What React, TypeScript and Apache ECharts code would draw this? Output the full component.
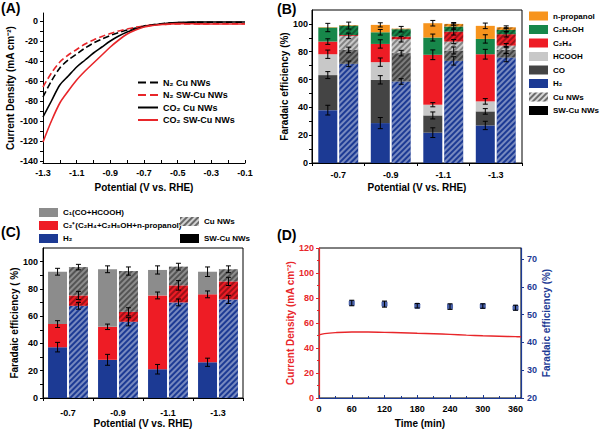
import React, { useEffect, useRef } from 'react';
import * as echarts from 'echarts';

const FONT = '"Liberation Sans", Arial, Helvetica, sans-serif';

// ---------- Panel A: LSV curves ----------
const potentialA = [-1.3, -1.25, -1.2, -1.15, -1.1, -1.05, -1.0, -0.95, -0.9, -0.85, -0.8, -0.75, -0.7, -0.65, -0.6, -0.55, -0.5, -0.45, -0.4, -0.35, -0.3, -0.25, -0.2, -0.15, -0.1];
const n2Cu = [-76, -60, -47, -39, -33, -27, -22, -18, -14.5, -11.5, -9, -7, -5, -3.8, -2.8, -2, -1.6, -1.5, -1.4, -1.4, -1.3, -1.3, -1.2, -1.2, -1.2];
const n2SwCu = [-66, -52, -41, -34, -28.5, -23, -19, -15.5, -12.5, -10, -8, -6.2, -5, -4, -3.5, -3.2, -3, -3, -2.9, -2.9, -2.8, -2.8, -2.8, -2.7, -2.7];
const co2Cu = [-96, -80, -64, -55, -46, -39, -32, -26, -20, -15, -11, -8, -5.5, -4, -3, -2, -1.5, -1.2, -1.1, -1, -1, -1, -1, -1, -1];
const co2SwCu = [-121, -100, -82, -70, -59, -50, -42, -34, -26, -19, -13, -9, -6, -4.5, -3.5, -3, -2.6, -2.7, -2.8, -2.9, -3, -3, -3, -3, -3];
const aXLabels = [-1.3, -1.1, -0.9, -0.7, -0.5, -0.3, -0.1];
const aXTicks = [-1.3, -1.2, -1.1, -1.0, -0.9, -0.8, -0.7, -0.6, -0.5, -0.4, -0.3, -0.2, -0.1];
const aYLabels = [-140, -120, -100, -80, -60, -40, -20, 0];
const aYTicks = [-140, -130, -120, -110, -100, -90, -80, -70, -60, -50, -40, -30, -20, -10, 0];

// ---------- Panel B: product distribution ----------
const potentialCats = ['-0.7', '-0.9', '-1.1', '-1.3'];
const swH2 = [38, 28.7, 21.8, 27];
const swCO = [25.2, 31.1, 12.4, 10.1];
const swHCOOH = [15, 12.7, 7.7, 7.2];
const swC2H4 = [9.1, 13.1, 35.9, 33.9];
const swC2H5OH = [10.1, 8.4, 12.4, 11];
const swNProp = [0.3, 5.3, 10.3, 9.4];
const cuH2 = [71.3, 58.6, 73.4, 75.8];
const cuCO = [10, 20.4, 7.5, 5.5];
const cuHCOOH = [10.1, 10, 6.4, 3.1];
const cuC2H4 = [0.6, 1.9, 7.2, 8.2];
const cuC2H5OH = [6.8, 5.3, 3.6, 3.1];
const cuNProp = [0.4, 0.4, 1.9, 1.9];
const swErrB = [[3.5, 4, 3.5, 3], [2.5, 3, 2.5, 2], [3, 3, 1.5, 2], [2, 3, 3.5, 3.5], [3, 2, 2.5, 3], [0, 1.5, 2, 2]];
const cuErrB = [[2, 2, 3, 3], [2, 2, 2.5, 2.5], [2, 2, 1.5, 1.5], [0, 0, 2.5, 2], [2.5, 2, 2, 1.5], [0, 0, 1, 1]];
const fyLabels = [0, 20, 40, 60, 80, 100];
const fyTicks = [0, 10, 20, 30, 40, 50, 60, 70, 80, 90, 100];

// ---------- Panel C: grouped products ----------
const swH2C = [37.3, 28, 21.1, 26.2];
const swC2C = [16.9, 24.2, 54.1, 49.8];
const swC1C = [38.4, 42.2, 18.7, 16.6];
const cuH2C = [67.6, 55.9, 70.1, 72.3];
const cuC2C = [7.6, 7.3, 12.5, 13.2];
const cuC1C = [20.8, 29.9, 13.7, 8.9];
const swErrC = [[3.5, 4, 3.5, 3], [2.5, 2, 2.5, 2.5], [2.5, 2.5, 3, 3.5]];
const cuErrC = [[2.5, 3, 2.5, 3], [3, 3, 3.5, 3], [2, 3, 2.5, 2.5]];

// ---------- Panel D: stability ----------
const timeD = [0, 10, 30, 60, 90, 120, 150, 180, 210, 240, 270, 300, 330, 360, 370];
const currentD = [50.5, 51.5, 52.3, 52.8, 52.8, 52.5, 52.2, 51.8, 51.4, 50.9, 50.3, 49.8, 49.4, 49.1, 49];
const feTimes = [60, 120, 180, 240, 300, 360];
const feValues = [54.2, 53.8, 53.2, 52.9, 53.1, 52.5];
const feErr = [1, 1.1, 0.8, 1, 0.8, 0.9];
const dRightLabels = [20, 30, 40, 50, 60, 70];

const COL = {
  np: '#F7941D', eth: '#17874A', c2h4: '#EE1C25', hcooh: '#C8C8C8', co: '#444444', h2: '#1C3A94', c1: '#8C8C8C',
  red: '#E8262A', navy: '#1C3A94',
};

const NAMES: Record<string, string> = {
  N2Cu: 'N₂ Cu NWs', N2SW: 'N₂ SW-Cu NWs', CO2Cu: 'CO₂ Cu NWs', CO2SW: 'CO₂ SW-Cu NWs',
  B_np: 'n-propanol', B_eth: 'C₂H₅OH', B_c2h4: 'C₂H₄', B_hcooh: 'HCOOH', B_co: 'CO', B_h2: 'H₂',
  B_cu: 'Cu NWs', B_sw: 'SW-Cu NWs',
  C_c1: 'C₁(CO+HCOOH)', C_c2: 'C₂⁺(C₂H₄+C₂H₅OH+n-propanol)', C_h2: 'H₂', C_cu: 'Cu NWs', C_sw: 'SW-Cu NWs',
};

const BAR_W = 19;
const BAR_OFF = 10.45;

const hatch = (color: string) => ({
  symbol: 'rect', symbolSize: 1, dashArrayX: [1, 0], dashArrayY: [1.2, 1.6], rotation: -Math.PI / 4, color,
});

const labelStyle = { fontFamily: FONT, fontWeight: 'bold', fontSize: 9, color: '#000' };
const nameStyle = { fontFamily: FONT, fontWeight: 'bold', fontSize: 10, color: '#000' };
const blackLine = { show: true, onZero: false, lineStyle: { color: '#000', width: 1 } };

function cumulative(parts: number[][]): number[][] {
  const acc = parts[0].map(() => 0);
  return parts.map((p) => { p.forEach((v, i) => { acc[i] += v; }); return acc.slice(); });
}

function errSeries(xi: number, yi: number, data: number[][], side: number) {
  return {
    type: 'custom', xAxisIndex: xi, yAxisIndex: yi, z: 10, silent: true,
    encode: { x: 0, y: 1 }, data,
    renderItem: (_p: any, api: any) => {
      const x0 = api.value(0), v = api.value(1), e = api.value(2);
      if (!e) return null;
      const lo = api.coord([x0, v - e]);
      const hi = api.coord([x0, v + e]);
      const x = lo[0] + side * BAR_OFF;
      const st = { stroke: '#000', lineWidth: 1 };
      return {
        type: 'group', children: [
          { type: 'line', shape: { x1: x, y1: lo[1], x2: x, y2: hi[1] }, style: st },
          { type: 'line', shape: { x1: x - 2.5, y1: lo[1], x2: x + 2.5, y2: lo[1] }, style: st },
          { type: 'line', shape: { x1: x - 2.5, y1: hi[1], x2: x + 2.5, y2: hi[1] }, style: st },
        ],
      };
    },
  };
}

function barErrData(parts: number[][], errs: number[][]) {
  const tops = cumulative(parts);
  const out: number[][] = [];
  tops.forEach((layer, li) => layer.forEach((t, ci) => { if (errs[li][ci] > 0) out.push([ci, t, errs[li][ci]]); }));
  return out;
}

function buildOption(): any {
  const series: any[] = [];

  // A
  const aLines: [string, number[], string, string][] = [
    ['N2Cu', n2Cu, '#000', 'dashed'], ['N2SW', n2SwCu, COL.red, 'dashed'],
    ['CO2Cu', co2Cu, '#000', 'solid'], ['CO2SW', co2SwCu, COL.red, 'solid'],
  ];
  aLines.forEach(([name, arr, color, type]) => series.push({
    type: 'line', name, xAxisIndex: 0, yAxisIndex: 0, smooth: 0.3,
    symbol: 'circle', showSymbol: false,
    data: potentialA.map((x, i) => [x, arr[i]]),
    itemStyle: { color }, lineStyle: { color, width: 1.6, type },
  }));

  // B
  const bSw: [string, number[], string][] = [
    ['B_h2', swH2, COL.h2], ['B_co', swCO, COL.co], ['B_hcooh', swHCOOH, COL.hcooh],
    ['B_c2h4', swC2H4, COL.c2h4], ['B_eth', swC2H5OH, COL.eth], ['B_np', swNProp, COL.np],
  ];
  const bCu: [string, number[], string, string][] = [
    ['B_h2_cu', cuH2, COL.h2, 'rgba(255,255,255,0.4)'], ['B_co_cu', cuCO, COL.co, 'rgba(255,255,255,0.3)'],
    ['B_hcooh_cu', cuHCOOH, COL.hcooh, 'rgba(0,0,0,0.35)'], ['B_c2h4_cu', cuC2H4, COL.c2h4, 'rgba(0,0,0,0.35)'],
    ['B_eth_cu', cuC2H5OH, COL.eth, 'rgba(0,0,0,0.35)'], ['B_np_cu', cuNProp, COL.np, 'rgba(0,0,0,0.3)'],
  ];
  bSw.forEach(([name, arr, color]) => series.push({
    type: 'bar', name, xAxisIndex: 1, yAxisIndex: 1, stack: 'bsw', data: arr,
    barWidth: BAR_W, barGap: '10%', itemStyle: { color },
  }));
  bCu.forEach(([name, arr, color, hc]) => series.push({
    type: 'bar', name, xAxisIndex: 1, yAxisIndex: 1, stack: 'bcu', data: arr,
    barWidth: BAR_W, barGap: '10%', itemStyle: { color, decal: hatch(hc) },
  }));
  series.push({ type: 'bar', name: 'B_cu', xAxisIndex: 1, yAxisIndex: 1, stack: 'bcu', data: [], barWidth: BAR_W, barGap: '10%', itemStyle: { color: '#d8d8d8', decal: hatch('rgba(0,0,0,0.5)') } });
  series.push({ type: 'bar', name: 'B_sw', xAxisIndex: 1, yAxisIndex: 1, stack: 'bsw', data: [], barWidth: BAR_W, barGap: '10%', itemStyle: { color: '#000' } });
  series.push(errSeries(1, 1, barErrData(bSw.map((s) => s[1]), swErrB), -1));
  series.push(errSeries(1, 1, barErrData(bCu.map((s) => s[1]), cuErrB), 1));

  // C
  const cSw: [string, number[], string][] = [['C_h2', swH2C, COL.h2], ['C_c2', swC2C, COL.c2h4], ['C_c1', swC1C, COL.c1]];
  const cCu: [string, number[], string, string][] = [
    ['C_h2_cu', cuH2C, COL.h2, 'rgba(255,255,255,0.4)'], ['C_c2_cu', cuC2C, COL.c2h4, 'rgba(0,0,0,0.35)'],
    ['C_c1_cu', cuC1C, COL.c1, 'rgba(0,0,0,0.4)'],
  ];
  cSw.forEach(([name, arr, color]) => series.push({
    type: 'bar', name, xAxisIndex: 2, yAxisIndex: 2, stack: 'csw', data: arr,
    barWidth: BAR_W, barGap: '10%', itemStyle: { color },
  }));
  cCu.forEach(([name, arr, color, hc]) => series.push({
    type: 'bar', name, xAxisIndex: 2, yAxisIndex: 2, stack: 'ccu', data: arr,
    barWidth: BAR_W, barGap: '10%', itemStyle: { color, decal: hatch(hc) },
  }));
  series.push({ type: 'bar', name: 'C_cu', xAxisIndex: 2, yAxisIndex: 2, stack: 'ccu', data: [], barWidth: BAR_W, barGap: '10%', itemStyle: { color: '#d0d0d0', decal: hatch('rgba(0,0,0,0.5)') } });
  series.push({ type: 'bar', name: 'C_sw', xAxisIndex: 2, yAxisIndex: 2, stack: 'csw', data: [], barWidth: BAR_W, barGap: '10%', itemStyle: { color: '#000' } });
  series.push(errSeries(2, 2, barErrData(cSw.map((s) => s[1]), swErrC), -1));
  series.push(errSeries(2, 2, barErrData(cCu.map((s) => s[1]), cuErrC), 1));

  // D
  series.push({
    type: 'line', name: 'D_j', xAxisIndex: 3, yAxisIndex: 3, smooth: 0.4, showSymbol: false, symbol: 'none',
    data: timeD.map((t, i) => [t, currentD[i]]), lineStyle: { color: COL.red, width: 1.5 }, itemStyle: { color: COL.red },
  });
  series.push({
    type: 'scatter', name: 'D_fe', xAxisIndex: 3, yAxisIndex: 4, symbol: 'roundRect', symbolSize: 6,
    data: feTimes.map((t, i) => [t, feValues[i]]), itemStyle: { color: COL.navy },
  });
  series.push(errSeries(3, 4, feTimes.map((t, i) => [t, feValues[i], feErr[i]]), 0));

  const legendText = { fontFamily: FONT, fontWeight: 'bold', fontSize: 8, color: '#000' };
  const fmt = (n: string) => NAMES[n] ?? n;

  return {
    animation: false,
    backgroundColor: '#fff',
    textStyle: { fontFamily: FONT },
    grid: [
      { left: 43, top: 13, width: 202, height: 150 },
      { left: 312, top: 10, width: 210, height: 153, show: true, borderColor: '#000', borderWidth: 1, backgroundColor: 'transparent' },
      { left: 43, top: 248, width: 200, height: 150, show: true, borderColor: '#000', borderWidth: 1, backgroundColor: 'transparent' },
      { left: 319, top: 248, width: 202, height: 150, show: true, borderColor: '#000', borderWidth: 1, backgroundColor: 'transparent' },
    ],
    xAxis: [
      {
        type: 'value', gridIndex: 0, min: -1.3, max: -0.1,
        axisLine: blackLine, splitLine: { show: false },
        axisTick: { show: true, inside: true, length: 3, customValues: aXTicks, lineStyle: { color: '#000' } },
        axisLabel: { ...labelStyle, margin: 5, customValues: aXLabels, formatter: (v: number) => v.toFixed(1) },
        name: 'Potential (V vs. RHE)', nameLocation: 'middle', nameGap: 19, nameTextStyle: nameStyle,
      },
      {
        type: 'category', gridIndex: 1, data: potentialCats,
        axisLine: blackLine, axisTick: { show: true, length: 3, lineStyle: { color: '#000' } },
        axisLabel: { ...labelStyle, margin: 7 },
        name: 'Potential (V vs. RHE)', nameLocation: 'middle', nameGap: 19, nameTextStyle: nameStyle,
      },
      {
        type: 'category', gridIndex: 2, data: potentialCats,
        axisLine: blackLine, axisTick: { show: true, length: 3, lineStyle: { color: '#000' } },
        axisLabel: { ...labelStyle, margin: 10 },
        name: 'Potential (V vs. RHE)', nameLocation: 'middle', nameGap: 20, nameTextStyle: nameStyle,
      },
      {
        type: 'value', gridIndex: 3, min: 0, max: 370, interval: 60,
        axisLine: { show: true, onZero: false, lineStyle: { color: COL.navy, width: 1 } }, splitLine: { show: false },
        axisTick: { show: true, inside: true, length: 3, lineStyle: { color: COL.navy } },
        minorTick: { show: true, splitNumber: 2, length: 2, lineStyle: { color: COL.navy } },
        axisLabel: { ...labelStyle, margin: 6, showMaxLabel: false },
        name: 'Time (min)', nameLocation: 'middle', nameGap: 20, nameTextStyle: nameStyle,
      },
    ],
    yAxis: [
      {
        type: 'value', gridIndex: 0, min: -142, max: 8,
        axisLine: blackLine, splitLine: { show: false },
        axisTick: { show: true, length: 3, customValues: aYTicks, lineStyle: { color: '#000' } },
        axisLabel: { ...labelStyle, margin: 5, customValues: aYLabels },
        name: 'Current Density (mA cm⁻²)', nameLocation: 'middle', nameGap: 28, nameTextStyle: nameStyle,
      },
      {
        type: 'value', gridIndex: 1, min: 0, max: 110,
        axisLine: blackLine, splitLine: { show: false },
        axisTick: { show: true, length: 3, customValues: fyTicks, lineStyle: { color: '#000' } },
        axisLabel: { ...labelStyle, margin: 4, customValues: fyLabels },
        name: 'Faradaic efficiency (%)', nameLocation: 'middle', nameGap: 19, nameTextStyle: nameStyle,
      },
      {
        type: 'value', gridIndex: 2, min: 0, max: 110,
        axisLine: blackLine, splitLine: { show: false },
        axisTick: { show: true, length: 3, customValues: fyTicks, lineStyle: { color: '#000' } },
        axisLabel: { ...labelStyle, margin: 5, customValues: fyLabels },
        name: 'Faradaic efficiency ( %)', nameLocation: 'middle', nameGap: 23, nameTextStyle: nameStyle,
      },
      {
        type: 'value', gridIndex: 3, min: 0, max: 120, interval: 20, position: 'left',
        axisLine: { show: true, onZero: false, lineStyle: { color: COL.red, width: 1.2 } }, splitLine: { show: false },
        axisTick: { show: true, length: 3, lineStyle: { color: COL.red } },
        minorTick: { show: true, splitNumber: 2, length: 2, lineStyle: { color: COL.red } },
        axisLabel: { ...labelStyle, color: COL.red, margin: 5 },
        name: 'Current Density (mA cm⁻²)', nameLocation: 'middle', nameGap: 22, nameTextStyle: { ...nameStyle, color: COL.red },
      },
      {
        type: 'value', gridIndex: 3, min: 20, max: 74, position: 'right',
        axisLine: { show: true, onZero: false, lineStyle: { color: COL.navy, width: 1.2 } }, splitLine: { show: false },
        axisTick: { show: true, length: 3, customValues: dRightLabels, lineStyle: { color: COL.navy } },
        axisLabel: { ...labelStyle, color: COL.navy, margin: 6, customValues: dRightLabels },
        name: 'Faradaic efficiency (%)', nameLocation: 'middle', nameGap: 20, nameTextStyle: { ...nameStyle, color: COL.navy },
      },
    ],
    legend: [
      {
        left: 137, top: 78, orient: 'vertical', padding: 0, itemWidth: 20, itemHeight: 8, itemGap: 3.5,
        selectedMode: false, data: ['N2Cu', 'N2SW', 'CO2Cu', 'CO2SW'], formatter: fmt,
        textStyle: { ...legendText, fontSize: 9 }, itemStyle: { opacity: 0 },
      },
      {
        left: 529, top: 11.5, orient: 'vertical', padding: 0, itemWidth: 19, itemHeight: 9, itemGap: 4.5,
        icon: 'rect', selectedMode: false,
        data: ['B_np', 'B_eth', 'B_c2h4', 'B_hcooh', 'B_co', 'B_h2', 'B_cu', 'B_sw'], formatter: fmt,
        textStyle: legendText,
      },
      {
        left: 39, top: 208, orient: 'vertical', padding: 0, itemWidth: 19, itemHeight: 9, itemGap: 4,
        icon: 'rect', selectedMode: false, data: ['C_c1', 'C_c2', 'C_h2'], formatter: fmt, textStyle: legendText,
      },
      {
        left: 180, top: 217, orient: 'vertical', padding: 0, itemWidth: 19, itemHeight: 9, itemGap: 8,
        icon: 'rect', selectedMode: false, data: ['C_cu', 'C_sw'], formatter: fmt, textStyle: legendText,
      },
    ],
    graphic: [
      { type: 'text', left: 1, top: 1, style: { text: '(A)', font: `bold 14px ${FONT}`, fill: '#000' } },
      { type: 'text', left: 277, top: 2, style: { text: '(B)', font: `bold 14px ${FONT}`, fill: '#000' } },
      { type: 'text', left: 1, top: 225, style: { text: '(C)', font: `bold 14px ${FONT}`, fill: '#000' } },
      { type: 'text', left: 277, top: 228, style: { text: '(D)', font: `bold 14px ${FONT}`, fill: '#000' } },
    ],
    series,
  };
}

export default function App() {
  const ref = useRef<HTMLDivElement>(null);
  useEffect(() => {
    if (!ref.current) return;
    const chart = echarts.init(ref.current, null, { renderer: 'svg' });
    chart.setOption(buildOption());
    return () => chart.dispose();
  }, []);
  return <div ref={ref} style={{ position: 'fixed', left: 0, top: 0, width: 600, height: 430, background: '#fff' }} />;
}
